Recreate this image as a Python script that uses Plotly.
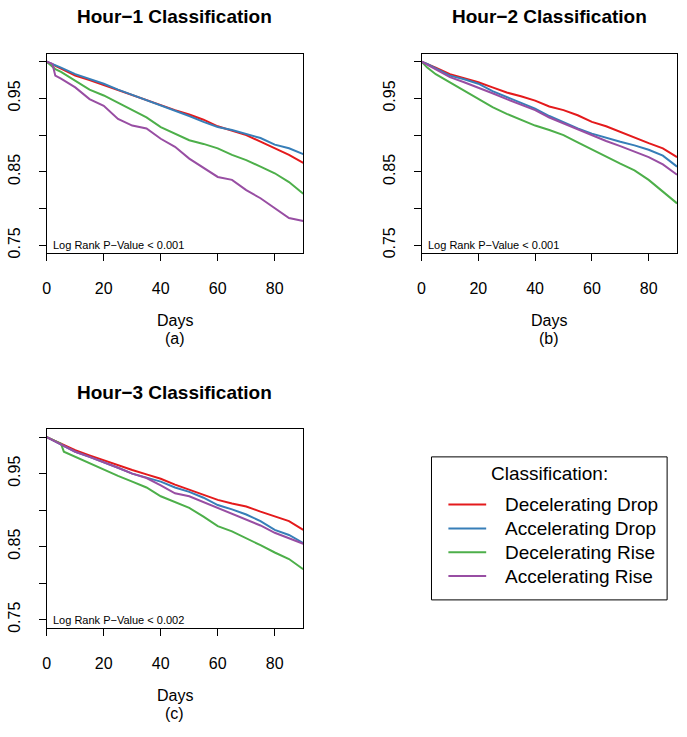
import plotly.graph_objects as go

W, H = 687, 737
FONT = "Liberation Sans, Arial, sans-serif"

series_names = ["Decelerating Drop", "Accelerating Drop", "Decelerating Rise", "Accelerating Rise"]
series_colors = ["#E41A1C", "#377EB8", "#4DAF4A", "#984EA3"]

panel_titles = ["Hour\u22121 Classification", "Hour\u22122 Classification", "Hour\u22123 Classification"]
panel_letters = ["(a)", "(b)", "(c)"]
pvalue_texts = ["Log Rank P\u2212Value < 0.001", "Log Rank P\u2212Value < 0.001", "Log Rank P\u2212Value < 0.002"]

# Panel (a)
days_a = [0, 2, 3, 5, 10, 15, 20, 25, 30, 35, 40, 45, 50, 55, 60, 65, 70, 75, 80, 85, 90]
a_dec_drop = [1.0, 0.996, 0.994, 0.990, 0.981, 0.975, 0.968, 0.961, 0.954, 0.948, 0.940, 0.934, 0.928, 0.921, 0.912, 0.906, 0.900, 0.891, 0.882, 0.873, 0.862]
a_acc_drop = [1.0, 0.997, 0.995, 0.992, 0.983, 0.977, 0.970, 0.962, 0.955, 0.948, 0.940, 0.933, 0.926, 0.918, 0.911, 0.907, 0.901, 0.896, 0.887, 0.882, 0.874]
a_dec_rise = [1.0, 0.993, 0.990, 0.986, 0.974, 0.962, 0.954, 0.944, 0.934, 0.924, 0.911, 0.902, 0.893, 0.888, 0.882, 0.873, 0.866, 0.857, 0.848, 0.836, 0.820]
a_acc_rise = [1.0, 0.997, 0.981, 0.977, 0.965, 0.949, 0.940, 0.922, 0.913, 0.909, 0.895, 0.884, 0.868, 0.855, 0.843, 0.839, 0.825, 0.814, 0.800, 0.787, 0.783]

# Panel (b)
days_b = [0, 2, 5, 10, 15, 20, 25, 30, 35, 40, 45, 50, 55, 60, 65, 70, 75, 80, 85, 90]
b_dec_drop = [1.0, 0.997, 0.992, 0.983, 0.978, 0.972, 0.965, 0.958, 0.953, 0.947, 0.939, 0.934, 0.927, 0.918, 0.912, 0.904, 0.897, 0.889, 0.882, 0.870]
b_acc_drop = [1.0, 0.997, 0.991, 0.981, 0.976, 0.970, 0.960, 0.952, 0.944, 0.936, 0.926, 0.917, 0.909, 0.902, 0.896, 0.891, 0.886, 0.880, 0.872, 0.857]
b_dec_rise = [1.0, 0.992, 0.983, 0.972, 0.960, 0.949, 0.938, 0.929, 0.921, 0.913, 0.907, 0.900, 0.890, 0.880, 0.870, 0.861, 0.852, 0.839, 0.823, 0.807]
b_acc_rise = [1.0, 0.996, 0.989, 0.979, 0.972, 0.965, 0.957, 0.949, 0.942, 0.934, 0.924, 0.916, 0.907, 0.900, 0.892, 0.885, 0.878, 0.870, 0.860, 0.846]

# Panel (c)
days_c = [0, 5, 6, 10, 15, 20, 25, 30, 35, 40, 45, 50, 55, 60, 65, 70, 75, 80, 85, 90]
c_dec_drop = [1.0, 0.991, 0.990, 0.982, 0.975, 0.968, 0.962, 0.955, 0.949, 0.943, 0.935, 0.928, 0.921, 0.914, 0.909, 0.905, 0.898, 0.892, 0.885, 0.873]
c_acc_drop = [1.0, 0.990, 0.988, 0.980, 0.973, 0.966, 0.958, 0.950, 0.945, 0.939, 0.931, 0.925, 0.917, 0.907, 0.901, 0.894, 0.885, 0.873, 0.866, 0.855]
c_dec_rise = [1.0, 0.991, 0.980, 0.973, 0.964, 0.955, 0.947, 0.939, 0.931, 0.919, 0.911, 0.903, 0.891, 0.878, 0.871, 0.862, 0.852, 0.842, 0.833, 0.819]
c_acc_rise = [1.0, 0.990, 0.988, 0.980, 0.973, 0.966, 0.958, 0.950, 0.944, 0.934, 0.923, 0.919, 0.911, 0.903, 0.895, 0.887, 0.879, 0.869, 0.862, 0.854]

x_ticks = [0, 20, 40, 60, 80]
y_ticks = [0.75, 0.80, 0.85, 0.90, 0.95, 1.00]
y_tick_text = ["0.75", "", "0.85", "", "0.95", ""]

panels = [
    (days_a, [a_dec_drop, a_acc_drop, a_dec_rise, a_acc_rise]),
    (days_b, [b_dec_drop, b_acc_drop, b_dec_rise, b_acc_rise]),
    (days_c, [c_dec_drop, c_acc_drop, c_dec_rise, c_acc_rise]),
]

# panel boxes in pixels: (left, right, top, bottom)
boxes = [(43, 301, 54, 255), (420, 677, 54, 255), (43, 301, 432, 632)]

def px_x(p):
    return p / W

def px_y(p):
    return 1 - p / H

fig = go.Figure()
annotations = []
shapes = []

for i, ((days, curves), box) in enumerate(zip(panels, boxes)):
    ax = "" if i == 0 else str(i + 1)
    for name, color, vals in zip(series_names, series_colors, curves):
        fig.add_trace(go.Scatter(
            x=days, y=vals, mode="lines", name=name,
            line=dict(color=color, width=2),
            xaxis="x" + ax, yaxis="y" + ax, showlegend=False,
        ))
    l, r, t, b = box
    axis_common = dict(
        showgrid=False, zeroline=False, showline=True, mirror=True,
        linecolor="black", linewidth=1, ticks="outside", ticklen=7,
        tickcolor="black", tickfont=dict(family=FONT, size=16, color="black"),
    )
    fig.layout["xaxis" + ax] = dict(
        axis_common, domain=[px_x(l), px_x(r)], range=[0, 90],
        tickvals=x_ticks, anchor="y" + ax, ticklabelstandoff=14,
    )
    fig.layout["yaxis" + ax] = dict(
        axis_common, domain=[px_y(b), px_y(t)], range=[0.739, 1.011],
        tickvals=y_ticks, ticktext=y_tick_text, tickangle=-90,
        anchor="x" + ax, ticklabelstandoff=12,
    )
    cx = (l + r) / 2
    annotations.append(dict(
        text="<b>" + panel_titles[i] + "</b>", xref="paper", yref="paper",
        x=px_x(cx), y=px_y(t - 37), xanchor="center", yanchor="middle",
        showarrow=False, font=dict(family=FONT, size=19, color="black"),
    ))
    annotations.append(dict(
        text="Days", xref="paper", yref="paper",
        x=px_x(cx), y=px_y(b + 68), xanchor="center", yanchor="middle",
        showarrow=False, font=dict(family=FONT, size=16, color="black"),
    ))
    annotations.append(dict(
        text=panel_letters[i], xref="paper", yref="paper",
        x=px_x(cx), y=px_y(b + 86), xanchor="center", yanchor="middle",
        showarrow=False, font=dict(family=FONT, size=16, color="black"),
    ))
    annotations.append(dict(
        text=pvalue_texts[i], xref="x" + ax, yref="y" + ax,
        x=1.5, y=0.75, xanchor="left", yanchor="middle",
        showarrow=False, font=dict(family=FONT, size=11, color="black"),
    ))

# Legend (drawn manually)
lg_l, lg_r, lg_t, lg_b = 430, 667, 460, 604
shapes.append(dict(type="rect", xref="paper", yref="paper",
                   x0=px_x(lg_l), x1=px_x(lg_r), y0=px_y(lg_b), y1=px_y(lg_t),
                   line=dict(color="black", width=1), fillcolor="rgba(0,0,0,0)"))
annotations.append(dict(
    text="Classification:", xref="paper", yref="paper",
    x=px_x(549), y=px_y(477), xanchor="center", yanchor="middle",
    showarrow=False, font=dict(family=FONT, size=19, color="black"),
))
entry_y = [508, 532, 556, 580]
for name, color, ey in zip(series_names, series_colors, entry_y):
    shapes.append(dict(type="line", xref="paper", yref="paper",
                       x0=px_x(447), x1=px_x(485), y0=px_y(ey), y1=px_y(ey),
                       line=dict(color=color, width=2)))
    annotations.append(dict(
        text=name, xref="paper", yref="paper",
        x=px_x(502), y=px_y(ey), xanchor="left", yanchor="middle",
        showarrow=False, font=dict(family=FONT, size=19, color="black"),
    ))

fig.update_layout(
    width=W, height=H, margin=dict(l=0, r=0, t=0, b=0),
    paper_bgcolor="white", plot_bgcolor="white",
    annotations=annotations, shapes=shapes, showlegend=False,
    font=dict(family=FONT, color="black"), hovermode=False,
)

fig.write_html("out.html", config={"displayModeBar": False, "staticPlot": True},
               post_script="document.body.style.margin='0px';")
